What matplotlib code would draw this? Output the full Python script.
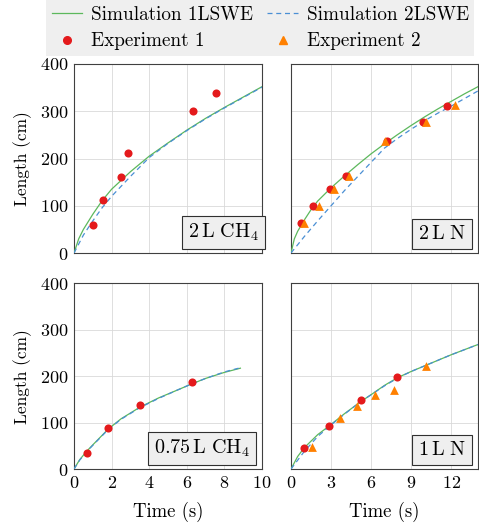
import matplotlib
matplotlib.use("Agg")
import matplotlib.pyplot as plt
from matplotlib.lines import Line2D

plt.rcParams['font.family'] = ['cmr10']
plt.rcParams['mathtext.fontset'] = 'cm'
plt.rcParams['axes.formatter.use_mathtext'] = True
plt.rcParams['font.size'] = 13

# =============================
# DATA
# =============================
# 2 L CH4
ch4_2_t_exp1 = [1.03, 1.52, 2.48, 2.89, 6.35, 7.53]
ch4_2_L_exp1 = [59, 112, 161, 212, 301, 339]
ch4_2_t_sim1 = [0, 0.25, 0.5, 1, 1.5, 2, 3, 4, 5, 6, 7, 8, 9, 10]
ch4_2_L_sim1 = [0, 30, 50, 82, 111, 135, 172, 205, 233, 260, 285, 308, 330, 352]
ch4_2_t_sim2 = [0, 0.5, 1, 1.5, 2, 3, 4, 5, 6, 7, 8, 9, 10]
ch4_2_L_sim2 = [0, 38, 68, 96, 120, 162, 202, 232, 259, 284, 307, 329, 351]

# 2 L N
n_2_t_exp1 = [0.74, 1.63, 2.91, 4.10, 7.16, 9.90, 11.70]
n_2_L_exp1 = [63, 100, 136, 162, 236, 277, 312]
n_2_t_exp2 = [0.99, 2.12, 3.21, 4.32, 7.06, 10.07, 12.25]
n_2_L_exp2 = [63, 100, 136, 162, 238, 278, 314]
n_2_t_sim1 = [0, 0.25, 0.5, 1, 1.6, 2, 3, 4, 5, 6, 7, 8, 9, 10, 11, 12, 13, 14]
n_2_L_sim1 = [0, 30, 46, 70, 96, 110, 138, 163, 187, 210, 231, 251, 270, 288, 305, 321, 337, 352]
n_2_t_sim2 = [0, 1, 2, 3, 4, 5, 6, 7, 8, 9, 10, 11, 12, 13, 14]
n_2_L_sim2 = [0, 35, 68, 100, 132, 162, 192, 222, 243, 262, 280, 296, 311, 327, 343]

# 0.75 L CH4
ch4_075_t_exp1 = [0.67, 1.82, 3.50, 6.25]
ch4_075_L_exp1 = [34.5, 87.6, 138, 188]
ch4_075_t_sim1 = [0, 0.3, 0.67, 1, 1.82, 2.5, 3.5, 4.5, 5.5, 6.25, 7, 8, 8.85]
ch4_075_L_sim1 = [0, 20, 38, 52, 86, 108, 133, 153, 170, 183, 195, 208, 217]
ch4_075_t_sim2 = [0, 0.3, 0.67, 1, 1.82, 2.5, 3.5, 4.5, 5.5, 6.25, 7, 8, 8.85]
ch4_075_L_sim2 = [0, 19, 37, 51, 85, 107, 132, 152, 170, 183, 195, 209, 218]

# 1 L N
n_1_t_exp1 = [1.01, 2.87, 5.22, 7.96]
n_1_L_exp1 = [44.5, 93.3, 148, 197]
n_1_t_exp2 = [1.56, 3.69, 4.95, 6.26, 7.72, 10.09]
n_1_L_exp2 = [46.7, 110.6, 136, 160, 169, 221]
n_1_t_sim1 = [0, 0.5, 1, 2, 2.87, 4, 5.22, 6, 7, 8, 9, 10, 11, 12, 13, 14]
n_1_L_sim1 = [0, 27, 46, 74, 93, 119, 145, 160, 180, 197, 210, 222, 234, 246, 257, 268]
n_1_t_sim2 = [0, 1, 2, 3, 4, 5.22, 6, 7, 8, 9, 10, 11, 12, 13, 14]
n_1_L_sim2 = [0, 38, 70, 95, 118, 145, 160, 179, 196, 210, 222, 234, 246, 257, 268]

GREEN = '#5cb85c'
BLUE = '#4a8fd4'
RED = '#e41a1c'
ORANGE = '#ff8000'

panels = [
    dict(pos=[0.1545, 0.5208, 0.3925, 0.358], xlim=10, xticks=[0, 2, 4, 6, 8, 10],
         label=r'$2\,\mathrm{L}\ \mathrm{CH}_4$', off=(-2.5, 7),
         sim1=(ch4_2_t_sim1, ch4_2_L_sim1), sim2=(ch4_2_t_sim2, ch4_2_L_sim2),
         exp1=(ch4_2_t_exp1, ch4_2_L_exp1), exp2=None, left=True, bottom=False),
    dict(pos=[0.6075, 0.5208, 0.3904, 0.358], xlim=14, xticks=[0, 3, 6, 9, 12],
         label=r'$2\,\mathrm{L}\ \mathrm{N}$', off=(-8.5, 7),
         sim1=(n_2_t_sim1, n_2_L_sim1), sim2=(n_2_t_sim2, n_2_L_sim2),
         exp1=(n_2_t_exp1, n_2_L_exp1), exp2=(n_2_t_exp2, n_2_L_exp2), left=False, bottom=False),
    dict(pos=[0.1545, 0.1117, 0.3925, 0.352], xlim=10, xticks=[0, 2, 4, 6, 8, 10],
         label=r'$0.75\,\mathrm{L}\ \mathrm{CH}_4$', off=(-8.5, 7),
         sim1=(ch4_075_t_sim1, ch4_075_L_sim1), sim2=(ch4_075_t_sim2, ch4_075_L_sim2),
         exp1=(ch4_075_t_exp1, ch4_075_L_exp1), exp2=None, left=True, bottom=True),
    dict(pos=[0.6075, 0.1117, 0.3904, 0.352], xlim=14, xticks=[0, 3, 6, 9, 12],
         label=r'$1\,\mathrm{L}\ \mathrm{N}$', off=(-8.5, 7),
         sim1=(n_1_t_sim1, n_1_L_sim1), sim2=(n_1_t_sim2, n_1_L_sim2),
         exp1=(n_1_t_exp1, n_1_L_exp1), exp2=(n_1_t_exp2, n_1_L_exp2), left=False, bottom=True),
]

fig = plt.figure(figsize=(4.79, 5.28), dpi=100)

for p in panels:
    ax = fig.add_axes(p['pos'])
    ax.set_xlim(0, p['xlim'])
    ax.set_ylim(0, 400)
    ax.set_xticks(p['xticks'])
    ax.set_yticks([0, 100, 200, 300, 400])
    ax.grid(True, color='#d9d9d9', linewidth=0.6)
    ax.set_axisbelow(True)
    for s in ax.spines.values():
        s.set_color('#404040')
        s.set_linewidth(0.8)
    ax.tick_params(direction='in', length=0, labelsize=13, pad=4)

    ax.plot(*p['sim1'], color=GREEN, linewidth=0.9, zorder=3)
    ax.plot(*p['sim2'], color=BLUE, linewidth=0.9, linestyle=(0, (4, 3)), zorder=3)
    ax.scatter(*p['exp1'], color=RED, s=34, zorder=4, linewidths=0)
    if p['exp2'] is not None:
        ax.scatter(*p['exp2'], color=ORANGE, marker='^', s=40, zorder=4, linewidths=0)

    ax.annotate(p['label'], xy=(1, 0), xycoords='axes fraction', xytext=p['off'],
                textcoords='offset points', ha='right', va='bottom', fontsize=14.5, zorder=6,
                bbox=dict(boxstyle='square,pad=0.3', facecolor='#efefef', edgecolor='#303030',
                          linewidth=0.8))

    if p['left']:
        ax.set_ylabel('Length (cm)', fontsize=12.5, labelpad=6)
    else:
        ax.tick_params(labelleft=False)
    if p['bottom']:
        ax.set_xlabel('Time (s)', fontsize=13.5, labelpad=8)
    else:
        ax.tick_params(labelbottom=False)

handles = [
    Line2D([], [], color=GREEN, linewidth=0.9),
    Line2D([], [], color=RED, marker='o', linestyle='none', markersize=5.5),
    Line2D([], [], color=BLUE, linewidth=0.9, linestyle=(0, (4, 3))),
    Line2D([], [], color=ORANGE, marker='^', linestyle='none', markersize=6),
]
labels = ['Simulation 1LSWE', 'Experiment 1', 'Simulation 2LSWE', 'Experiment 2']
leg = fig.legend(handles, labels, ncol=2, loc='upper center', bbox_to_anchor=(0.543, 1.0),
                 borderaxespad=0, frameon=True, fontsize=13.8, facecolor='#efefef',
                 edgecolor='none', fancybox=False, handlelength=1.6, columnspacing=0.75,
                 borderpad=0.3, labelspacing=0.45, handletextpad=0.45)
leg.get_frame().set_alpha(1)

fig.savefig('out.png', dpi=100)
